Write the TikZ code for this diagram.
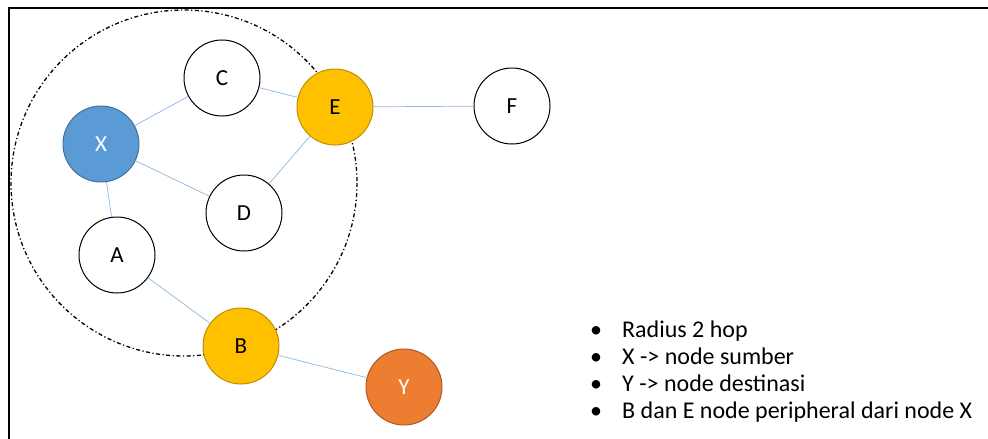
\documentclass[tikz,border=0pt]{standalone}
\usepackage{fontspec}
\setmainfont{Carlito}
\begin{document}
\begin{tikzpicture}[x=1pt,y=-1pt,
  vtx/.style={circle,draw=black,line width=1pt,fill=white,minimum size=76pt,inner sep=0pt,font=\fontsize{23}{26}\selectfont},
  src/.style={vtx,fill=srcblue,draw=srcedge,text=white},
  peri/.style={vtx,fill=periyellow,draw=periedge},
  dst/.style={vtx,fill=dstorange,draw=dstedge,text=white},
  link/.style={draw=linkblue,line width=0.7pt},
  item/.style={anchor=base west,font=\fontsize{24}{28}\selectfont,inner sep=0pt}]
\definecolor{srcblue}{HTML}{5B9BD5}
\definecolor{srcedge}{HTML}{41719C}
\definecolor{periyellow}{HTML}{FFC000}
\definecolor{periedge}{HTML}{BF9000}
\definecolor{dstorange}{HTML}{ED7D31}
\definecolor{dstedge}{HTML}{AE5A21}
\definecolor{linkblue}{HTML}{8EB4E3}
\useasboundingbox (0,0) rectangle (988,439);
% frame
\draw[line width=2pt] (9,439) -- (9,8) -- (988,8);
% two-hop radius around X
\draw[dash pattern=on 4pt off 2.5pt on 1.2pt off 2.5pt,line width=1.3pt] (184,183) circle[radius=173];
% nodes
\node[src]  (X) at (101,144) {X};
\node[vtx]  (C) at (222,78)  {C};
\node[peri] (E) at (335,107) {E};
\node[vtx]  (F) at (512,106) {F};
\node[vtx]  (D) at (244,213) {D};
\node[vtx]  (A) at (117,255) {A};
\node[peri] (B) at (241,346) {B};
\node[dst]  (Y) at (404,387) {Y};
% links
\draw[link] (X) -- (C);
\draw[link] (C) -- (E);
\draw[link] (X) -- (D);
\draw[link] (D) -- (E);
\draw[link] (X) -- (A);
\draw[link] (A) -- (B);
\draw[link] (B) -- (Y);
\draw[link] (E) -- (F);
% legend
\foreach \t [count=\i] in {Radius 2 hop,X -> node sumber,Y -> node destinasi,B dan E node peripheral dari node X}{
  \node[item] (b\i) at (590,{337+27*(\i-1)}) {\textbullet};
  \node[item] (t\i) at (622,{337+27*(\i-1)}) {\t};
}
\end{tikzpicture}
\end{document}
